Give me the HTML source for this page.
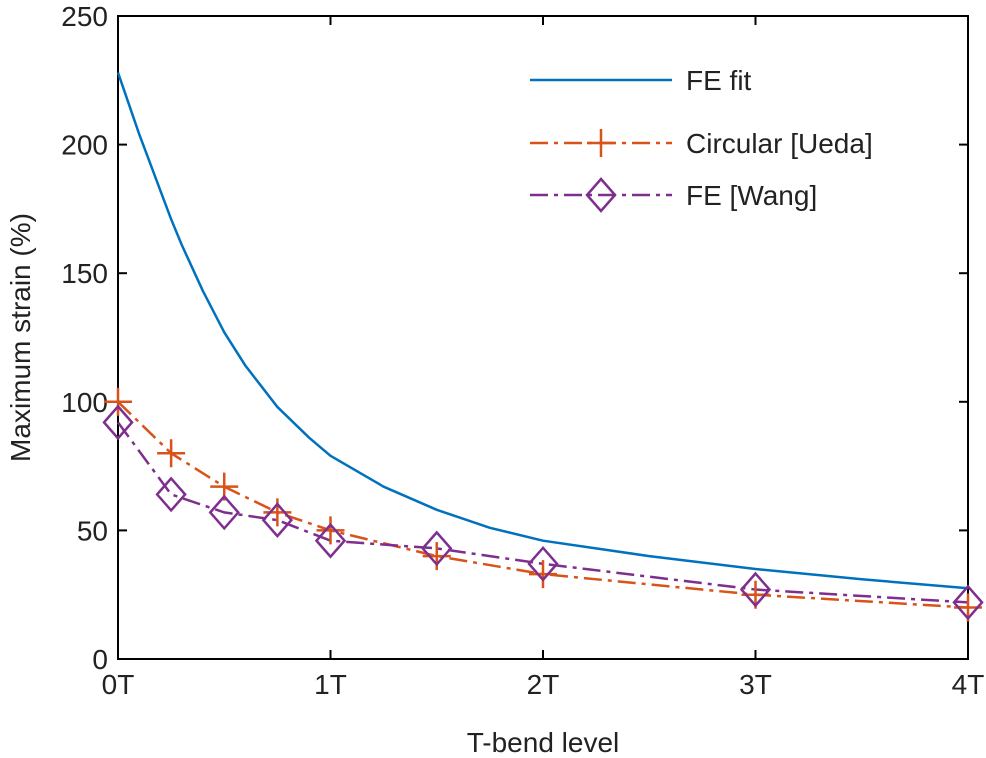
<!DOCTYPE html>
<html><head><meta charset="utf-8"><style>
html,body{margin:0;padding:0;background:#fff;}
svg{display:block;font-family:"Liberation Sans",sans-serif;}
</style></head><body>
<svg id="chart" width="986" height="758">
<g id="plot"></g>
</svg>
<script>
const xCats=[0,0.25,0.5,0.75,1,1.5,2,3,4];
const circularVals=[100,80,67,57,50,40,33,25,20];
const wangVals=[92,64,57,54,46,43,37,27,22];
const fitX=[0,0.05,0.1,0.15,0.2,0.25,0.3,0.4,0.5,0.6,0.75,0.9,1,1.25,1.5,1.75,2,2.5,3,3.5,4];
const fitY=[228,216,204,193,182,171,161,143,127,114,98,86,79,67,58,51,46,40,35,31,27.5];
const xTicks=[0,1,2,3,4];
const xTickLabels=["0T","1T","2T","3T","4T"];
const yTicks=[0,50,100,150,200,250];
const L=118,R=968,T=16,B=659;
const sx=v=>L+(R-L)*v/4;
const sy=v=>B-(B-T)*v/250;
const ns="http://www.w3.org/2000/svg";
const g=document.getElementById('plot');
function mk(tag,attrs,parent){const e=document.createElementNS(ns,tag);for(const k in attrs)e.setAttribute(k,attrs[k]);(parent||g).appendChild(e);return e;}
const box=mk('rect',{x:L,y:T,width:R-L,height:B-T,fill:'none',stroke:'#000','stroke-width':2});


xTicks.forEach((t,i)=>{
 const x=sx(t);
 mk('line',{x1:x,y1:B,x2:x,y2:B-9,stroke:'#000','stroke-width':2});
 mk('line',{x1:x,y1:T,x2:x,y2:T+9,stroke:'#000','stroke-width':2});
 const tx=mk('text',{x:x,y:B+35,'text-anchor':'middle','font-size':28,fill:'#222'});
 tx.textContent=xTickLabels[i];
 
 
});
yTicks.forEach(t=>{
 const y=sy(t);
 mk('line',{x1:L,y1:y,x2:L+9,y2:y,stroke:'#000','stroke-width':2});
 mk('line',{x1:R,y1:y,x2:R-9,y2:y,stroke:'#000','stroke-width':2});
 const tx=mk('text',{x:L-10,y:y+10,'text-anchor':'end','font-size':28,fill:'#222'});
 tx.textContent=t;
 
 
});
const xt=mk('text',{x:(L+R)/2,y:752,'text-anchor':'middle','font-size':28,fill:'#222'});
xt.textContent='T-bend level';


const yt=mk('text',{x:0,y:0,'text-anchor':'middle','font-size':28,fill:'#222',transform:'translate(30,'+((T+B)/2)+') rotate(-90)'});
yt.textContent='Maximum strain (%)';


const fit=mk('polyline',{points:fitX.map((x,i)=>sx(x)+','+sy(fitY[i])).join(' '),fill:'none',stroke:'#0072BD','stroke-width':2.5,'stroke-linejoin':'round'});


const cl=mk('polyline',{points:xCats.map((x,i)=>sx(x)+','+sy(circularVals[i])).join(' '),fill:'none',stroke:'#D95319','stroke-width':2.5,'stroke-dasharray':'18 6 4 6'});


const wl=mk('polyline',{points:xCats.map((x,i)=>sx(x)+','+sy(wangVals[i])).join(' '),fill:'none',stroke:'#7E2F8E','stroke-width':2.5,'stroke-dasharray':'18 6 4 6'});


function plus(x,y,name){const p=mk('path',{d:`M${x-14},${y}H${x+14}M${x},${y-14}V${y+14}`,stroke:'#D95319','stroke-width':2.5,fill:'none'});}
function diamond(x,y,name){const p=mk('path',{d:`M${x},${y-16}L${x+14},${y}L${x},${y+16}L${x-14},${y}Z`,stroke:'#7E2F8E','stroke-width':2.5,fill:'none'});}
xCats.forEach((x,i)=>{plus(sx(x),sy(circularVals[i]),'circular-point');});
xCats.forEach((x,i)=>{diamond(sx(x),sy(wangVals[i]),'wang-point');});
const lg=mk('g',{});


const entries=[['FE fit','#0072BD',null,80],['Circular [Ueda]','#D95319','18 6 4 6',143],['FE [Wang]','#7E2F8E','18 6 4 6',195]];
entries.forEach((e,i)=>{
 const a={x1:530,y1:e[3],x2:672,y2:e[3],stroke:e[1],'stroke-width':2.5};
 if(e[2])a['stroke-dasharray']=e[2];
 mk('line',a,lg);
 const t=mk('text',{x:686,y:e[3]+10,'font-size':28,fill:'#222'},lg);
 t.textContent=e[0];
 
 
});
plus(601,143,'legend-plus-marker');
diamond(601,195,'legend-diamond-marker');
</script>
</body></html>
